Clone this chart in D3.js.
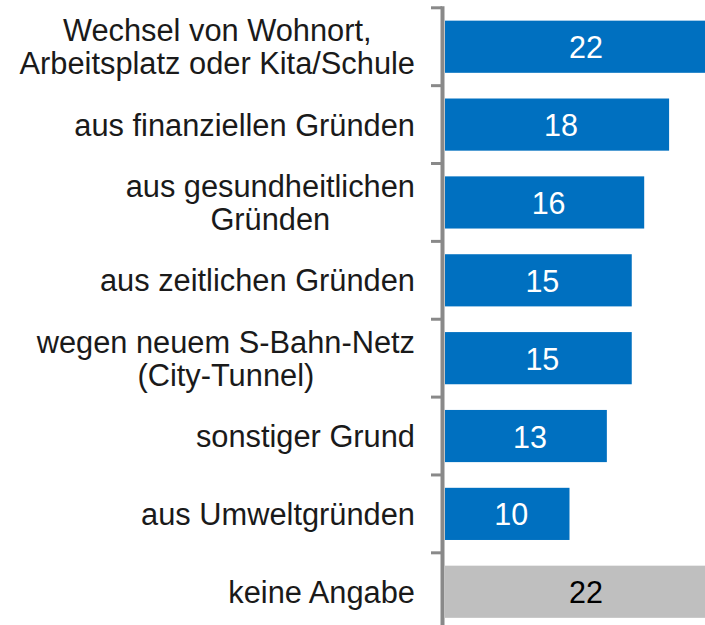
<!DOCTYPE html>
<html>
<head>
<meta charset="utf-8">
<script src="https://cdn.jsdelivr.net/npm/d3@7"></script>
<style>
  html, body { margin: 0; padding: 0; background: #ffffff; }
  svg { display: block; }
</style>
</head>
<body>
<svg id="chart" width="705" height="625"></svg>
<script>
// ---- data ----
const categories = [
  ["Wechsel von Wohnort,", "Arbeitsplatz oder Kita/Schule"],
  ["aus finanziellen Gründen"],
  ["aus gesundheitlichen", "Gründen"],
  ["aus zeitlichen Gründen"],
  ["wegen neuem S-Bahn-Netz", "(City-Tunnel)"],
  ["sonstiger Grund"],
  ["aus Umweltgründen"],
  ["keine Angabe"]
];
const values = [22, 18, 16, 15, 15, 13, 10, 22];
const barColors = ["#0070C0", "#0070C0", "#0070C0", "#0070C0", "#0070C0", "#0070C0", "#0070C0", "#BFBFBF"];
const valueColors = ["#ffffff", "#ffffff", "#ffffff", "#ffffff", "#ffffff", "#ffffff", "#ffffff", "#000000"];

// ---- layout ----
const W = 705, H = 625;
const svg = d3.select("#chart");
const keys = categories.map((c, i) => i);

const y = d3.scaleBand()
  .domain(keys)
  .range([7.8, 7.8 + 8 * 77.86])
  .paddingInner(0.33)
  .paddingOuter(0.165);

const x = d3.scaleLinear()
  .domain([0, 22])
  .range([445, 445 + 22 * 12.45]);

const fontFamily = "'Liberation Sans', Arial, Helvetica, sans-serif";

// bars
svg.append("g")
  .selectAll("rect")
  .data(values)
  .join("rect")
  .attr("x", x(0))
  .attr("y", (d, i) => y(i))
  .attr("width", d => x(d) - x(0))
  .attr("height", y.bandwidth())
  .attr("fill", (d, i) => barColors[i]);

// value labels
svg.append("g")
  .selectAll("text")
  .data(values)
  .join("text")
  .attr("x", d => (x(0) + x(d)) / 2 + 4)
  .attr("y", (d, i) => y(i) + y.bandwidth() / 2 + 11.5)
  .attr("text-anchor", "middle")
  .attr("font-family", fontFamily)
  .attr("font-size", 30.5)
  .attr("fill", (d, i) => valueColors[i])
  .text(d => d);

// axis line + ticks
const axisG = svg.append("g");
const step = y.step();
const y0 = y.range()[0];
axisG.append("line")
  .attr("x1", 442.5).attr("x2", 442.5)
  .attr("y1", y0 - 1.5).attr("y2", H + 5)
  .attr("stroke", "#898989").attr("stroke-width", 4);
axisG.selectAll("line.tick")
  .data(d3.range(keys.length + 1))
  .join("line")
  .attr("class", "tick")
  .attr("x1", 431).attr("x2", 442)
  .attr("y1", i => y0 + i * step)
  .attr("y2", i => y0 + i * step)
  .attr("stroke", "#898989").attr("stroke-width", 3);

// category labels (block right-aligned, lines centered within block)
const rightEdge = 415;
const lineH = 33;
const labelG = svg.append("g");
categories.forEach((lines, i) => {
  const cy = y(i) + y.bandwidth() / 2;
  const g = labelG.append("g");
  const texts = lines.map((ln, j) => g.append("text")
    .attr("font-family", fontFamily)
    .attr("font-size", 30.8)
    .attr("fill", "#1a1a1a")
    .attr("text-anchor", "middle")
    .attr("y", cy + (j - (lines.length - 1) / 2) * lineH + 11)
    .text(ln));
  const maxW = d3.max(texts, t => t.node().getComputedTextLength());
  texts.forEach(t => t.attr("x", rightEdge - maxW / 2));
});
</script>
</body>
</html>
